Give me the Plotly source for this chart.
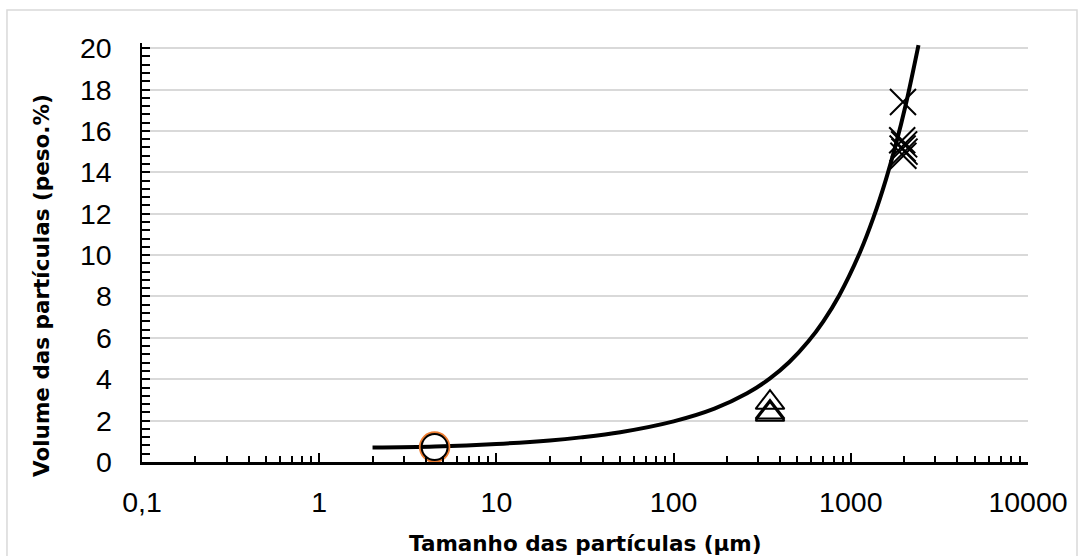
import plotly.graph_objects as go

# ---- data ----
curve_x = [2, 4.5, 10, 20, 30, 50, 100, 170, 260, 350, 450, 575, 700,
           860, 1130, 1343, 1578, 1795, 2045, 2410]
curve_y = [0.70, 0.75, 0.87, 1.04, 1.19, 1.44, 1.965, 2.58, 3.32, 4.04,
           4.83, 5.82, 6.80, 8.05, 10.16, 11.82, 13.65, 15.34, 17.29, 20.15]

circle_x = [4.48]
circle_y = [0.72]

tri_x = [350, 350, 350]
tri_y = [2.87, 2.40, 2.30]

cross_x = [1970, 1950, 2000, 1960, 2010, 1980]
cross_y = [17.4, 15.55, 15.35, 15.15, 15.0, 14.8]

x_tickvals = [0.1, 1, 10, 100, 1000, 10000]
x_ticktext = ["0,1", "1", "10", "100", "1000", "10000"]
y_tickvals = [0, 2, 4, 6, 8, 10, 12, 14, 16, 18, 20]
y_ticktext = ["0", "2", "4", "6", "8", "10", "12", "14", "16", "18", "20"]

x_title = "Tamanho das partículas (μm)"
y_title = "Volume das partículas (peso.%)"

# ---- figure ----
fig = go.Figure()

fig.add_trace(go.Scatter(
    x=curve_x, y=curve_y, mode="lines",
    line=dict(color="black", width=4, shape="spline", smoothing=1.0),
    hoverinfo="skip", showlegend=False))

fig.add_trace(go.Scatter(
    x=tri_x, y=tri_y, mode="markers",
    marker=dict(symbol="triangle-up-open", size=25, color="black",
                line=dict(color="black", width=2)),
    showlegend=False, cliponaxis=False))

fig.add_trace(go.Scatter(
    x=cross_x, y=cross_y, mode="markers",
    marker=dict(symbol="x-thin-open", size=26, color="black",
                line=dict(color="black", width=2)),
    showlegend=False, cliponaxis=False))

fig.add_trace(go.Scatter(
    x=circle_x, y=circle_y, mode="markers",
    marker=dict(symbol="circle-open", size=29, color="#ED7D31",
                line=dict(color="#ED7D31", width=2.5)),
    showlegend=False, cliponaxis=False))
fig.add_trace(go.Scatter(
    x=circle_x, y=circle_y, mode="markers",
    marker=dict(symbol="circle-open", size=26, color="black",
                line=dict(color="black", width=2)),
    showlegend=False, cliponaxis=False))

tick_font = dict(family="Liberation Sans, Arial, sans-serif", size=28.5, color="black")
title_font = dict(family="DejaVu Sans, Verdana, sans-serif", size=21.5, color="black")

# plot area: x 142..1028 px, y 43..462 px
PLOT_W, PLOT_H = 886, 419

annotations = []
for v, t in zip(y_tickvals, y_ticktext):
    annotations.append(dict(
        x=(113 - 142) / PLOT_W, xref="paper", y=v, yref="y",
        text=t, showarrow=False, xanchor="right", yanchor="middle",
        font=tick_font, borderpad=0))

annotations.append(dict(
    x=0.5, xref="paper", y=(462 - 543) / PLOT_H, yref="paper",
    text="<b>" + x_title + "</b>", showarrow=False,
    xanchor="center", yanchor="middle", font=title_font))
annotations.append(dict(
    x=(41 - 142) / PLOT_W, xref="paper", y=(462 - 286) / PLOT_H, yref="paper",
    text="<b>" + y_title + "</b>", showarrow=False, textangle=-90,
    xanchor="center", yanchor="middle", font=title_font))

fig.update_layout(
    width=1084, height=556,
    margin=dict(l=142, r=56, t=43, b=94, autoexpand=False),
    paper_bgcolor="white", plot_bgcolor="white",
    showlegend=False,
    xaxis=dict(
        type="log", range=[-1, 4],
        tickvals=x_tickvals, ticktext=x_ticktext,
        tickfont=tick_font,
        ticks="inside", ticklen=9, tickwidth=2, tickcolor="black",
        minor=dict(dtick="D1", ticks="inside", ticklen=6, tickwidth=2,
                   tickcolor="black", showgrid=False),
        showline=True, linecolor="black", linewidth=2.5,
        showgrid=False, zeroline=False,
        ticklabelstandoff=13,
        automargin=False,
    ),
    yaxis=dict(
        range=[0, 20.25],
        tickvals=y_tickvals,
        showticklabels=False,
        ticks="inside", ticklen=8, tickwidth=2, tickcolor="black",
        minor=dict(dtick=0.4, ticks="inside", ticklen=8, tickwidth=2,
                   tickcolor="black", showgrid=False),
        showline=True, linecolor="black", linewidth=2,
        showgrid=True, gridcolor="#d9d9d9", gridwidth=1.5,
        zeroline=False,
        automargin=False,
    ),
    annotations=annotations,
    shapes=[dict(type="rect", xref="paper", yref="paper",
                 x0=-0.1524, x1=1.0553, y0=-0.3, y1=1.0788,
                 line=dict(color="#d9d9d9", width=1.5), layer="below")],
)

fig.write_html("out.html")
